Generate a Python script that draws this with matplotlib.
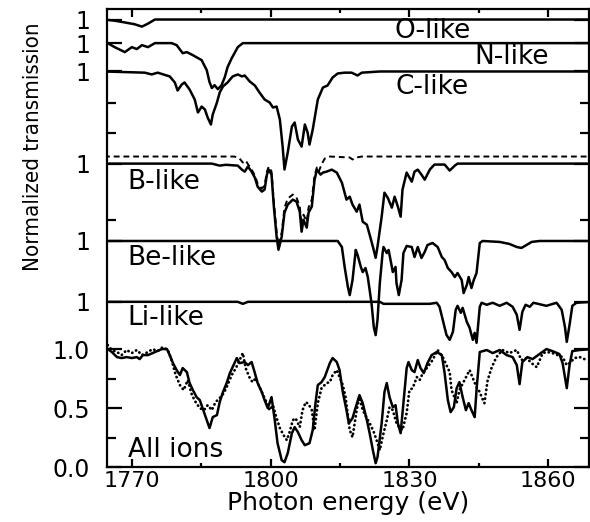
import matplotlib.pyplot as plt

# photon energy (eV) / normalized transmission, one pair per ion stage
o_E = [1764.0, 1766.3, 1768.5, 1770.6, 1772.2, 1773.5, 1775.0, 1869.5]
o_T = [1.0, 0.99, 0.975, 0.96, 0.94, 0.965, 1.0, 1.0]

n_E = [1764.0, 1764.8, 1766.3, 1768.5, 1770.0, 1771.1, 1772.2, 1773.5, 1775.0, 1778.6,
       1779.7, 1781.0, 1781.9, 1783.2, 1785.1, 1786.2, 1786.8, 1787.3, 1787.9, 1788.6,
       1789.4, 1790.1, 1790.7, 1791.6, 1792.2, 1792.9, 1794.0, 1869.5]
n_T = [1.0, 1.0, 0.966, 0.924, 0.966, 0.95, 0.983, 0.966, 1.0, 1.0,
       0.983, 0.915, 0.924, 0.898, 0.856, 0.771, 0.67, 0.62, 0.644, 0.61,
       0.644, 0.712, 0.797, 0.873, 0.915, 0.966, 1.0, 1.0]

c_E = [1764.0, 1772.8, 1774.3, 1775.6, 1778.2, 1779.3, 1779.9, 1780.8, 1781.4, 1782.5,
       1783.6, 1784.3, 1785.1, 1785.8, 1786.4, 1787.1, 1787.5, 1788.4, 1789.0, 1789.7,
       1790.7, 1791.8, 1792.9, 1793.8, 1794.4, 1795.5, 1796.6, 1797.6, 1798.7, 1799.8,
       1800.5, 1801.3, 1802.0, 1802.6, 1803.0, 1803.7, 1804.6, 1805.2, 1805.9, 1806.7,
       1807.4, 1808.0, 1808.4, 1809.1, 1810.2, 1811.3, 1812.3, 1813.4, 1814.5, 1816.0,
       1817.5, 1818.8, 1819.7, 1823.6, 1869.5]
c_T = [1.0, 0.99, 0.975, 0.99, 0.958, 0.907, 0.839, 0.89, 0.907, 0.847,
       0.763, 0.653, 0.703, 0.678, 0.61, 0.551, 0.636, 0.737, 0.822, 0.873,
       0.907, 0.958, 0.975, 0.958, 0.966, 0.915, 0.881, 0.822, 0.763, 0.737,
       0.695, 0.703, 0.593, 0.364, 0.17, 0.314, 0.534, 0.568, 0.424, 0.364,
       0.551, 0.483, 0.381, 0.508, 0.763, 0.864, 0.881, 0.949, 0.983, 0.99,
       0.99, 0.966, 0.99, 1.0, 1.0]

b_E = [1764.0, 1787.3, 1789.0, 1790.3, 1792.9, 1793.8, 1794.4, 1795.1, 1795.9, 1796.6,
       1797.2, 1798.1, 1798.7, 1799.2, 1799.6, 1800.2, 1800.7, 1801.3, 1801.7, 1802.4,
       1803.0, 1803.7, 1804.8, 1805.6, 1806.3, 1806.7, 1807.1, 1807.8, 1808.2, 1808.9,
       1809.5, 1810.0, 1810.8, 1811.3, 1812.1, 1813.2, 1814.3, 1815.4, 1816.4, 1817.1,
       1817.7, 1818.6, 1819.2, 1819.9, 1820.8, 1821.4, 1822.1, 1822.7, 1823.1, 1824.0,
       1824.6, 1825.3, 1826.2, 1826.8, 1827.5, 1828.1, 1828.5, 1829.4, 1830.5, 1831.1,
       1831.8, 1832.6, 1833.3, 1834.4, 1835.4, 1837.6, 1838.7, 1839.8, 1840.4, 1869.5]
b_T = [1.0, 1.0, 0.983, 0.99, 0.983, 0.949, 0.932, 0.975, 0.932, 0.881,
       0.805, 0.763, 0.78, 0.907, 0.949, 0.907, 0.636, 0.381, 0.271, 0.381,
       0.585, 0.653, 0.695, 0.678, 0.593, 0.424, 0.525, 0.458, 0.585, 0.636,
       0.864, 0.949, 0.907, 0.924, 0.932, 0.949, 0.924, 0.839, 0.695, 0.72,
       0.653, 0.593, 0.653, 0.508, 0.483, 0.398, 0.297, 0.203, 0.297, 0.551,
       0.754, 0.712, 0.627, 0.72, 0.636, 0.551, 0.78, 0.924, 0.847, 0.932,
       0.949, 0.907, 0.864, 0.949, 0.992, 0.992, 0.941, 0.983, 1.0, 1.0]

# B-like, second calculation (dashed)
b2_E = [1764.0, 1792.2, 1793.3, 1794.0, 1794.6, 1795.3, 1795.9, 1796.6, 1797.2, 1798.1,
        1798.7, 1799.2, 1799.6, 1800.2, 1800.7, 1801.3, 1801.7, 1802.4, 1803.0, 1803.7,
        1804.8, 1805.6, 1806.3, 1806.7, 1807.1, 1807.8, 1808.2, 1808.9, 1809.5, 1810.0,
        1810.4, 1811.0, 1811.7, 1812.8, 1817.1, 1817.7, 1818.6, 1819.7, 1869.5]
b2_T = [1.0, 1.0, 0.983, 0.949, 0.966, 0.924, 0.89, 0.839, 0.771, 0.729,
        0.754, 0.873, 0.915, 0.873, 0.61, 0.364, 0.246, 0.356, 0.568, 0.644,
        0.678, 0.653, 0.576, 0.415, 0.508, 0.449, 0.568, 0.636, 0.839, 0.907,
        0.873, 0.932, 0.983, 1.0, 0.992, 0.975, 0.992, 1.0, 1.0]

be_E = [1764.0, 1814.5, 1815.4, 1816.0, 1816.7, 1817.1, 1817.7, 1818.4, 1818.8, 1819.5,
        1819.9, 1820.5, 1821.0, 1821.8, 1822.3, 1822.7, 1823.1, 1823.6, 1824.2, 1824.4,
        1825.1, 1825.5, 1826.2, 1826.4, 1827.0, 1827.2, 1827.7, 1828.3, 1828.7, 1829.4,
        1830.5, 1831.1, 1831.8, 1832.6, 1833.3, 1833.9, 1835.0, 1836.1, 1837.0, 1837.6,
        1838.3, 1839.1, 1839.8, 1840.4, 1841.3, 1841.7, 1842.4, 1842.8, 1843.4, 1843.9,
        1844.5, 1845.2, 1845.8, 1849.5, 1851.6, 1853.2, 1854.2, 1855.3, 1856.4, 1858.1,
        1869.5]
be_T = [1.0, 1.0, 0.949, 0.78, 0.61, 0.542, 0.669, 0.924, 0.881, 0.78,
        0.737, 0.771, 0.695, 0.475, 0.271, 0.203, 0.331, 0.644, 0.898, 0.949,
        0.898, 0.924, 0.78, 0.737, 0.78, 0.644, 0.542, 0.669, 0.898, 0.958,
        0.949, 0.864, 0.949, 0.856, 0.907, 0.966, 0.983, 0.949, 0.864, 0.839,
        0.771, 0.737, 0.695, 0.729, 0.669, 0.559, 0.627, 0.695, 0.602, 0.669,
        0.729, 0.983, 1.0, 0.992, 0.975, 0.949, 0.941, 0.966, 0.992, 1.0,
        1.0]

li_E = [1764.0, 1792.9, 1794.0, 1795.1, 1823.6, 1824.4, 1834.4, 1835.9, 1836.5, 1837.2,
        1838.0, 1838.7, 1839.4, 1840.0, 1840.4, 1841.1, 1841.5, 1842.4, 1843.0, 1843.7,
        1844.1, 1844.5, 1845.2, 1845.6, 1846.7, 1848.0, 1849.5, 1851.0, 1852.3, 1853.2,
        1853.8, 1854.4, 1855.1, 1856.0, 1856.8, 1859.6, 1861.8, 1862.9, 1863.6, 1864.0,
        1864.6, 1865.2, 1866.1, 1869.5]
li_T = [1.0, 1.0, 0.983, 1.0, 1.0, 0.983, 0.983, 0.992, 0.958, 0.847,
        0.72, 0.678, 0.746, 0.932, 0.966, 0.907, 0.949, 0.83, 0.78, 0.678,
        0.737, 0.653, 0.958, 0.992, 0.975, 0.992, 0.966, 0.992, 0.958, 0.89,
        0.763, 0.915, 0.975, 0.958, 0.992, 0.966, 0.992, 0.932, 0.788, 0.661,
        0.805, 0.966, 0.992, 1.0]

# all ions, calculation (solid)
all_E = [1764.0, 1764.8, 1765.7, 1766.8, 1767.8, 1768.9, 1770.0, 1771.1, 1771.7, 1772.4,
         1773.5, 1775.0, 1776.5, 1777.6, 1778.2, 1778.9, 1779.7, 1780.4, 1781.0, 1781.9,
         1782.5, 1783.2, 1784.0, 1784.7, 1785.3, 1786.2, 1786.8, 1787.5, 1788.4, 1789.0,
         1789.7, 1790.5, 1791.2, 1791.8, 1792.7, 1793.3, 1794.4, 1795.1, 1795.9, 1796.6,
         1797.2, 1798.1, 1798.7, 1799.4, 1800.2, 1800.9, 1801.5, 1802.4, 1803.0, 1803.7,
         1804.6, 1805.2, 1805.9, 1806.7, 1807.4, 1808.4, 1809.1, 1809.7, 1810.2, 1811.0,
         1811.7, 1812.8, 1813.4, 1814.3, 1814.9, 1815.6, 1816.4, 1816.9, 1817.7, 1818.4,
         1819.2, 1819.9, 1820.8, 1821.4, 1822.1, 1822.7, 1823.1, 1824.0, 1824.6, 1825.1,
         1825.7, 1826.4, 1827.0, 1827.5, 1828.1, 1828.5, 1829.4, 1829.8, 1830.5, 1831.1,
         1831.8, 1832.4, 1833.1, 1833.9, 1834.8, 1835.9, 1837.0, 1837.6, 1838.3, 1838.9,
         1839.6, 1840.2, 1840.8, 1841.5, 1842.2, 1842.8, 1843.4, 1844.1, 1844.5, 1845.2,
         1846.7, 1848.0, 1849.5, 1851.0, 1852.3, 1853.2, 1853.8, 1854.4, 1855.5, 1856.6,
         1858.1, 1859.6, 1860.9, 1862.4, 1863.1, 1864.0, 1864.6, 1865.2, 1866.8, 1869.5]
all_T = [1.0, 1.0, 0.975, 0.932, 0.924, 0.932, 0.924, 0.932, 0.915, 0.949,
         0.949, 0.975, 1.0, 1.0, 0.949, 0.881, 0.822, 0.78, 0.839, 0.805,
         0.712, 0.653, 0.593, 0.568, 0.5, 0.398, 0.331, 0.424, 0.441, 0.551,
         0.636, 0.712, 0.797, 0.847, 0.924, 0.881, 0.89, 0.864, 0.89, 0.797,
         0.712, 0.636, 0.568, 0.5, 0.593, 0.398, 0.203, 0.059, 0.042, 0.119,
         0.288, 0.339, 0.297, 0.229, 0.186, 0.203, 0.314, 0.542, 0.695, 0.72,
         0.763, 0.881, 0.924, 0.89, 0.822, 0.636, 0.483, 0.373, 0.415, 0.508,
         0.61, 0.542, 0.398, 0.288, 0.144, 0.034, 0.085, 0.373, 0.636, 0.712,
         0.593, 0.508, 0.525, 0.373, 0.288, 0.458, 0.839, 0.89, 0.822, 0.805,
         0.907, 0.839, 0.797, 0.881, 0.949, 0.975, 0.949, 0.797, 0.568, 0.466,
         0.508, 0.669, 0.72, 0.593, 0.483, 0.542, 0.483, 0.424, 0.653, 0.975,
         0.992, 0.966, 0.992, 0.949, 0.932, 0.864, 0.703, 0.89, 0.932, 0.915,
         0.958, 1.0, 0.983, 0.958, 0.881, 0.669, 0.864, 0.983, 0.992, 1.0]

# all ions, measured (dotted)
meas_E = [1764.8, 1765.7, 1766.8, 1767.8, 1768.9, 1770.0, 1771.1, 1772.2, 1773.5, 1774.5,
          1775.6, 1776.7, 1777.8, 1778.6, 1779.5, 1780.4, 1781.2, 1782.1, 1783.0, 1783.8,
          1784.7, 1785.6, 1786.4, 1787.3, 1788.1, 1789.0, 1789.9, 1790.7, 1791.6, 1792.5,
          1793.3, 1794.0, 1794.6, 1795.5, 1796.1, 1796.8, 1797.4, 1798.1, 1798.9, 1799.8,
          1800.5, 1801.1, 1802.0, 1802.8, 1803.5, 1804.1, 1804.8, 1805.4, 1806.3, 1806.9,
          1807.6, 1808.2, 1808.9, 1809.5, 1810.2, 1811.0, 1812.1, 1812.8, 1813.4, 1814.3,
          1814.9, 1815.6, 1816.2, 1817.1, 1817.7, 1818.6, 1819.2, 1819.9, 1820.8, 1821.4,
          1822.3, 1822.9, 1823.6, 1824.2, 1825.1, 1825.7, 1826.4, 1827.2, 1827.9, 1828.5,
          1829.4, 1830.0, 1830.7, 1831.6, 1832.2, 1832.9, 1833.9, 1835.0, 1836.1, 1837.2,
          1838.0, 1838.7, 1839.1, 1839.8, 1840.2, 1840.8, 1841.9, 1843.0, 1843.6, 1844.5,
          1845.2, 1845.6, 1846.2, 1846.9, 1847.8, 1848.8, 1850.1, 1851.6, 1853.2, 1854.2,
          1855.3, 1856.4, 1857.5, 1858.8, 1859.8, 1860.9, 1862.0, 1863.1, 1864.0, 1864.6,
          1865.7, 1866.8, 1868.3]
meas_T = [1.034, 0.992, 0.975, 0.949, 0.992, 0.966, 0.992, 0.949, 0.975, 1.0,
          0.983, 1.017, 0.992, 0.907, 0.78, 0.695, 0.653, 0.737, 0.61, 0.551,
          0.5, 0.483, 0.525, 0.483, 0.551, 0.585, 0.627, 0.695, 0.78, 0.839,
          0.907, 0.966, 0.839, 0.754, 0.72, 0.754, 0.695, 0.636, 0.568, 0.483,
          0.525, 0.441, 0.331, 0.271, 0.229, 0.297, 0.398, 0.415, 0.339, 0.483,
          0.551, 0.534, 0.483, 0.314, 0.542, 0.669, 0.712, 0.72, 0.78, 0.822,
          0.763, 0.695, 0.593, 0.314, 0.254, 0.483, 0.593, 0.483, 0.415, 0.373,
          0.297, 0.229, 0.144, 0.254, 0.398, 0.508, 0.483, 0.373, 0.331, 0.314,
          0.458, 0.653, 0.669, 0.763, 0.737, 0.797, 0.847, 0.907, 0.992, 0.932,
          0.864, 0.805, 0.653, 0.585, 0.542, 0.653, 0.737, 0.822, 0.763, 0.678,
          0.636, 0.593, 0.542, 0.737, 0.847, 0.932, 0.992, 0.966, 0.992, 0.907,
          0.924, 0.881, 0.847, 0.966, 0.975, 0.966, 0.949, 0.932, 0.864, 0.881,
          0.924, 0.932, 0.907]

# vertical shift of each stacked trace
offsets = {'O': 2.79, 'N': 2.59, 'C': 2.35, 'B': 1.57, 'B2': 1.63, 'Be': 0.915, 'Li': 0.40, 'All': 0.0}
labels = ['O-like', 'N-like', 'C-like', 'B-like', 'Be-like', 'Li-like', 'All ions']

plt.rcParams['font.family'] = ['DejaVu Sans']

fig = plt.figure(figsize=(5.9, 5.22), dpi=100)
ax = fig.add_axes([0.181, 0.105, 0.8165, 0.878])

lw = 1.8
ax.plot(o_E, [t + offsets['O'] for t in o_T], color='k', lw=lw)
ax.plot(n_E, [t + offsets['N'] for t in n_T], color='k', lw=lw)
ax.plot(c_E, [t + offsets['C'] for t in c_T], color='k', lw=lw)
ax.plot(b2_E, [t + offsets['B2'] for t in b2_T], color='k', lw=1.4, ls=(0, (3, 2)))
ax.plot(b_E, [t + offsets['B'] for t in b_T], color='k', lw=lw)
ax.plot(be_E, [t + offsets['Be'] for t in be_T], color='k', lw=lw)
ax.plot(li_E, [t + offsets['Li'] for t in li_T], color='k', lw=lw)
ax.plot(meas_E, meas_T, color='k', lw=2.0, ls=(0, (0.1, 1.5)), dash_capstyle='round')
ax.plot(all_E, all_T, color='k', lw=lw)

ax.set_xlim(1764.6, 1868.7)
ax.set_ylim(0.0, 3.88)

# trace labels
fs = 19
ax.text(1835.0, 3.695, labels[0], fontsize=fs, ha='center', va='center')
ax.text(1852.1, 3.475, labels[1], fontsize=fs, ha='center', va='center')
ax.text(1834.8, 3.22, labels[2], fontsize=fs, ha='center', va='center')
ax.text(1769.1, 2.415, labels[3], fontsize=fs, ha='left', va='center')
ax.text(1769.1, 1.77, labels[4], fontsize=fs, ha='left', va='center')
ax.text(1769.1, 1.263, labels[5], fontsize=fs, ha='left', va='center')
ax.text(1769.1, 0.144, labels[6], fontsize=fs, ha='left', va='center')

# ticks
ax.set_xticks([1770, 1800, 1830, 1860])
ax.set_xticks([1785, 1815, 1845], minor=True)
ytick_pos = [0.0, 0.5, 1.0] + [offsets[k] + 1 for k in ['Li', 'Be', 'B', 'C', 'N', 'O']]
ytick_lab = ['0.0', '0.5', '1.0'] + ['1'] * 6
ax.set_yticks(ytick_pos, ytick_lab)
ax.set_yticks([0.25, 0.75, 2.09, 2.83, 3.08], minor=True)

ax.tick_params(which='both', direction='in', top=True, right=True, width=1.6, labelsize=17)
ax.tick_params(axis='x', which='major', length=6, pad=3, labelsize=16)
ax.tick_params(axis='x', which='minor', length=3)
ax.tick_params(axis='y', which='major', length=11, pad=12)
ax.tick_params(axis='y', which='minor', length=6.5)
for sp in ax.spines.values():
    sp.set_linewidth(1.6)

ax.set_xlabel('Photon energy (eV)', fontsize=18, labelpad=0)
ax.set_ylabel('Normalized transmission', fontsize=16, fontstretch='condensed')
ax.yaxis.set_label_coords(-0.132, 0.70)

fig.savefig('out.png', dpi=100)
